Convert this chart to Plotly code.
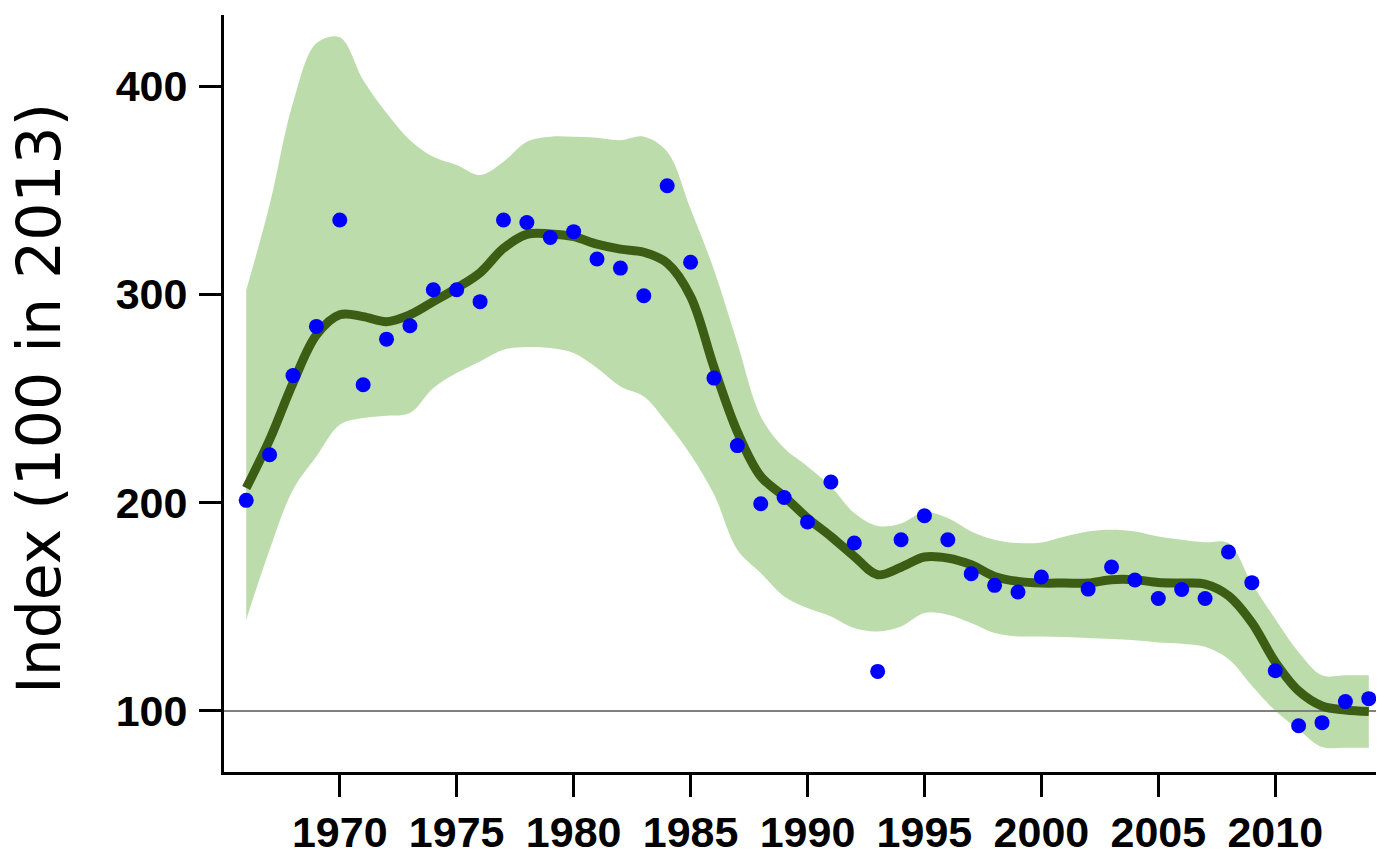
import plotly.graph_objects as go

# ---- data ----
years = list(range(1966, 2015))

index_points = [201.1, 223.0, 261.0, 284.6, 335.7, 256.6, 278.5, 284.9, 302.2, 302.2,
                296.5, 335.7, 334.5, 327.3, 330.1, 317.0, 312.6, 299.3, 352.1, 315.4,
                259.8, 227.4, 199.5, 202.5, 190.7, 209.9, 180.6, 119.0, 182.2, 193.7,
                182.2, 165.9, 160.3, 157.1, 164.3, None, 158.5, 169.1, 162.9, 154.0,
                158.3, 154.0, 176.3, 161.6, 119.3, 92.9, 94.4, 104.5, 105.9]

smoothed = [207.0, 230.2, 257.4, 280.5, 290.2, 289.3, 286.9, 290.2, 296.5, 303.0,
            310.4, 322.1, 328.8, 329.0, 327.7, 324.1, 321.7, 320.2, 315.0, 299.0,
            265.0, 234.0, 212.6, 203.0, 192.6, 183.8, 174.2, 165.4, 169.0, 173.9,
            173.4, 170.2, 164.6, 162.2, 161.4, 161.4, 161.4, 163.0, 163.0, 161.7,
            161.4, 160.9, 155.3, 142.4, 123.5, 109.6, 102.4, 100.5, 99.8]

upper = [302.0, 343.0, 392.0, 420.5, 423.4, 402.9, 387.0, 374.0, 366.0, 362.1,
         357.3, 363.7, 373.3, 375.7, 375.7, 375.2, 374.0, 375.7, 368.5, 341.0,
         311.8, 276.6, 241.4, 226.2, 217.4, 207.8, 195.0, 188.8, 190.0, 195.5,
         192.6, 186.2, 182.2, 180.6, 180.9, 183.8, 186.2, 187.0, 186.2, 183.8,
         182.2, 181.0, 180.6, 161.2, 144.2, 128.2, 117.1, 117.1, 117.1]

lower = [143.8, 177.4, 206.2, 222.2, 237.4, 240.6, 241.7, 243.0, 255.0, 262.2,
         267.8, 273.4, 274.7, 274.2, 271.8, 264.6, 255.8, 251.0, 238.2, 223.0,
         204.0, 177.4, 166.2, 155.0, 149.4, 145.4, 139.8, 138.2, 140.6, 147.0,
         146.2, 142.2, 137.4, 135.8, 135.8, 135.5, 135.0, 134.5, 133.9, 132.9,
         132.3, 130.8, 124.9, 112.1, 100.1, 91.0, 82.7, 82.4, 82.4]

x_ticks = [1970, 1975, 1980, 1985, 1990, 1995, 2000, 2005, 2010]
y_ticks = [100, 200, 300, 400]
reference_level = 100
x_range = [1965.05, 2014.65]
y_range = [70.7, 434.1]
y_title = "Index (100 in 2013)"

BAND = "#BDDCAC"
LINE = "#3C5E14"
DOT = "#0000FF"

fig = go.Figure()

fig.add_trace(go.Scatter(x=years, y=upper, mode="lines",
                         line=dict(width=0, shape="spline", color=BAND),
                         showlegend=False, hoverinfo="skip"))
fig.add_trace(go.Scatter(x=years, y=lower, mode="lines", fill="tonexty",
                         fillcolor=BAND, line=dict(width=0, shape="spline", color=BAND),
                         showlegend=False, hoverinfo="skip"))
fig.add_trace(go.Scatter(x=x_range, y=[reference_level, reference_level], mode="lines",
                         line=dict(width=2, color="#808080"),
                         showlegend=False, hoverinfo="skip"))
fig.add_trace(go.Scatter(x=years, y=smoothed, mode="lines",
                         line=dict(width=9, shape="spline", color=LINE),
                         showlegend=False))
fig.add_trace(go.Scatter(x=years, y=index_points, mode="markers",
                         marker=dict(size=15, color=DOT, line=dict(width=0)),
                         showlegend=False, cliponaxis=False))

tickfont = dict(family="Liberation Sans, Arial, sans-serif", size=43, color="black", weight="bold")

fig.update_xaxes(range=x_range, tickvals=x_ticks, ticktext=[str(t) for t in x_ticks],
                 showgrid=False, zeroline=False, showline=True, linecolor="black",
                 linewidth=3, ticks="outside", ticklen=22, tickwidth=3, tickcolor="black",
                 tickfont=tickfont, automargin=False, ticklabelstandoff=-2)
fig.update_yaxes(range=y_range, tickvals=y_ticks, ticktext=[str(t) for t in y_ticks],
                 showgrid=False, zeroline=False, showline=True, linecolor="black",
                 linewidth=3, ticks="outside", ticklen=22, tickwidth=3, tickcolor="black",
                 tickfont=tickfont, automargin=False, ticklabelstandoff=3)

fig.add_annotation(text=y_title, xref="paper", yref="paper", x=-0.1595, y=0.494,
                   xanchor="center", yanchor="middle", textangle=-90, showarrow=False,
                   font=dict(family="DejaVu Sans", size=60, color="black"))

# page body has an 8px margin, so the figure is offset by 8px in the browser
fig.update_layout(width=1384, height=850, margin=dict(l=216, r=8, t=7, b=86),
                  plot_bgcolor="white", paper_bgcolor="white")

fig.write_html("out.html")
